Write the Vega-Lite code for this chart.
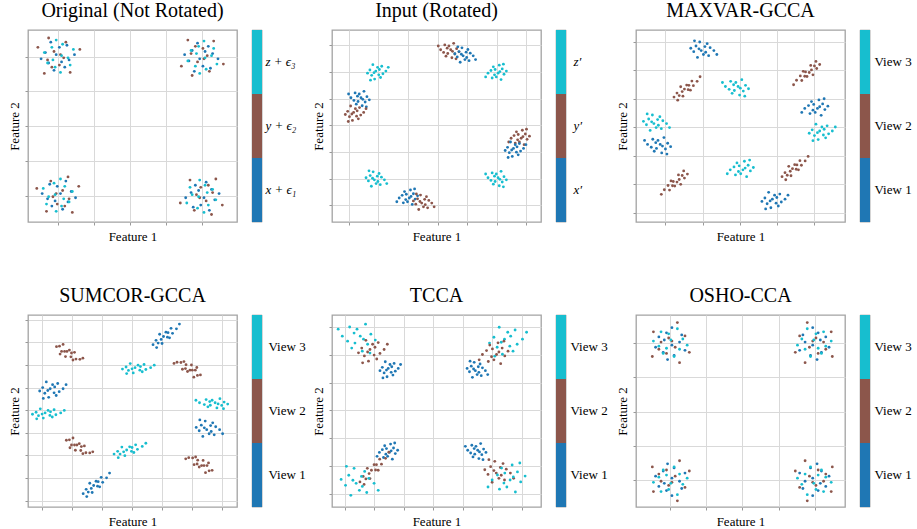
{
"$schema": "https://vega.github.io/schema/vega-lite/v6.json",
"padding": {"left": 7, "top": 0, "right": 0, "bottom": 0},
"background": "white",
"config": {
  "view": {"stroke": "#a3a3a3", "strokeWidth": 1.3},
  "title": {"font": "Liberation Serif", "fontSize": 20, "fontWeight": "normal", "color": "#000", "frame": "group", "anchor": "middle", "baseline": "alphabetic", "offset": 9},
  "axis": {"titleFont": "Liberation Serif", "titleFontSize": 13, "titleFontWeight": "normal", "titleColor": "#000", "labelFont": "Liberation Serif", "labelFontSize": 13, "labelColor": "#000", "domain": false, "tickColor": "#999", "tickSize": 3, "gridColor": "#d9d9d9", "gridWidth": 1},
  "axisX": {"titlePadding": 5},
  "axisY": {"titlePadding": 3}
},
"datasets": {
"bars": [
{"p":1,"v":1,"lab":"x + ϵ₁"},{"p":1,"v":2,"lab":"y + ϵ₂"},{"p":1,"v":3,"lab":"z + ϵ₃"},
{"p":2,"v":1,"lab":"x′"},{"p":2,"v":2,"lab":"y′"},{"p":2,"v":3,"lab":"z′"},
{"p":3,"v":1,"lab":"View 1"},{"p":3,"v":2,"lab":"View 2"},{"p":3,"v":3,"lab":"View 3"},
{"p":4,"v":1,"lab":"View 1"},{"p":4,"v":2,"lab":"View 2"},{"p":4,"v":3,"lab":"View 3"},
{"p":5,"v":1,"lab":"View 1"},{"p":5,"v":2,"lab":"View 2"},{"p":5,"v":3,"lab":"View 3"},
{"p":6,"v":1,"lab":"View 1"},{"p":6,"v":2,"lab":"View 2"},{"p":6,"v":3,"lab":"View 3"}
],
"pts": [
{"p":1,"v":1,"x":0.09,"y":3.85},{"p":1,"v":1,"x":-0.36,"y":4.12},{"p":1,"v":1,"x":0.24,"y":4.33},{"p":1,"v":1,"x":-0.12,"y":3.61},{"p":1,"v":1,"x":0.45,"y":4.06},{"p":1,"v":1,"x":-0.27,"y":3.82},{"p":1,"v":1,"x":0.03,"y":4.27},{"p":1,"v":1,"x":-0.48,"y":3.94},{"p":1,"v":1,"x":0.18,"y":3.70},{"p":1,"v":1,"x":-0.06,"y":4.06},{"p":1,"v":1,"x":0.30,"y":3.91},{"p":1,"v":1,"x":-0.21,"y":4.42},
{"p":1,"v":2,"x":-0.18,"y":3.70},{"p":1,"v":2,"x":0.06,"y":4.06},{"p":1,"v":2,"x":-0.30,"y":3.91},{"p":1,"v":2,"x":0.21,"y":4.42},{"p":1,"v":2,"x":-0.12,"y":4.15},{"p":1,"v":2,"x":0.33,"y":3.55},{"p":1,"v":2,"x":-0.57,"y":4.27},{"p":1,"v":2,"x":0.15,"y":3.97},{"p":1,"v":2,"x":-0.27,"y":4.54},{"p":1,"v":2,"x":0.03,"y":3.76},{"p":1,"v":2,"x":-0.39,"y":3.52},{"p":1,"v":2,"x":0.60,"y":4.21},
{"p":1,"v":3,"x":-0.15,"y":3.91},{"p":1,"v":3,"x":0.12,"y":4.36},{"p":1,"v":3,"x":0.33,"y":3.76},{"p":1,"v":3,"x":-0.39,"y":4.12},{"p":1,"v":3,"x":0.06,"y":3.55},{"p":1,"v":3,"x":-0.18,"y":4.27},{"p":1,"v":3,"x":0.27,"y":3.97},{"p":1,"v":3,"x":-0.06,"y":4.48},{"p":1,"v":3,"x":-0.30,"y":3.82},{"p":1,"v":3,"x":0.09,"y":4.03},{"p":1,"v":3,"x":-0.09,"y":3.70},{"p":1,"v":3,"x":0.42,"y":4.21},
{"p":1,"v":1,"x":4.09,"y":4.15},{"p":1,"v":1,"x":3.64,"y":3.88},{"p":1,"v":1,"x":4.24,"y":3.67},{"p":1,"v":1,"x":3.88,"y":4.39},{"p":1,"v":1,"x":4.45,"y":3.94},{"p":1,"v":1,"x":3.73,"y":4.18},{"p":1,"v":1,"x":4.03,"y":3.73},{"p":1,"v":1,"x":3.52,"y":4.06},{"p":1,"v":1,"x":4.18,"y":4.30},{"p":1,"v":1,"x":3.94,"y":3.94},{"p":1,"v":1,"x":4.30,"y":4.09},{"p":1,"v":1,"x":3.79,"y":3.58},
{"p":1,"v":2,"x":3.82,"y":4.30},{"p":1,"v":2,"x":4.06,"y":3.94},{"p":1,"v":2,"x":3.70,"y":4.09},{"p":1,"v":2,"x":4.21,"y":3.58},{"p":1,"v":2,"x":3.88,"y":3.85},{"p":1,"v":2,"x":4.33,"y":4.45},{"p":1,"v":2,"x":3.43,"y":3.73},{"p":1,"v":2,"x":4.15,"y":4.03},{"p":1,"v":2,"x":3.73,"y":3.46},{"p":1,"v":2,"x":4.03,"y":4.24},{"p":1,"v":2,"x":3.61,"y":4.48},{"p":1,"v":2,"x":4.60,"y":3.79},
{"p":1,"v":3,"x":3.85,"y":4.09},{"p":1,"v":3,"x":4.12,"y":3.64},{"p":1,"v":3,"x":4.33,"y":4.24},{"p":1,"v":3,"x":3.61,"y":3.88},{"p":1,"v":3,"x":4.06,"y":4.45},{"p":1,"v":3,"x":3.82,"y":3.73},{"p":1,"v":3,"x":4.27,"y":4.03},{"p":1,"v":3,"x":3.94,"y":3.52},{"p":1,"v":3,"x":3.70,"y":4.18},{"p":1,"v":3,"x":4.09,"y":3.97},{"p":1,"v":3,"x":3.91,"y":4.30},{"p":1,"v":3,"x":4.42,"y":3.79},
{"p":1,"v":1,"x":-0.09,"y":-0.15},{"p":1,"v":1,"x":0.36,"y":0.12},{"p":1,"v":1,"x":-0.24,"y":0.33},{"p":1,"v":1,"x":0.12,"y":-0.39},{"p":1,"v":1,"x":-0.45,"y":0.06},{"p":1,"v":1,"x":0.27,"y":-0.18},{"p":1,"v":1,"x":-0.03,"y":0.27},{"p":1,"v":1,"x":0.48,"y":-0.06},{"p":1,"v":1,"x":-0.18,"y":-0.30},{"p":1,"v":1,"x":0.06,"y":0.06},{"p":1,"v":1,"x":-0.30,"y":-0.09},{"p":1,"v":1,"x":0.21,"y":0.42},
{"p":1,"v":2,"x":0.18,"y":-0.30},{"p":1,"v":2,"x":-0.06,"y":0.06},{"p":1,"v":2,"x":0.30,"y":-0.09},{"p":1,"v":2,"x":-0.21,"y":0.42},{"p":1,"v":2,"x":0.12,"y":0.15},{"p":1,"v":2,"x":-0.33,"y":-0.45},{"p":1,"v":2,"x":0.57,"y":0.27},{"p":1,"v":2,"x":-0.15,"y":-0.03},{"p":1,"v":2,"x":0.27,"y":0.54},{"p":1,"v":2,"x":-0.03,"y":-0.24},{"p":1,"v":2,"x":0.39,"y":-0.48},{"p":1,"v":2,"x":-0.60,"y":0.21},
{"p":1,"v":3,"x":0.15,"y":-0.09},{"p":1,"v":3,"x":-0.12,"y":0.36},{"p":1,"v":3,"x":-0.33,"y":-0.24},{"p":1,"v":3,"x":0.39,"y":0.12},{"p":1,"v":3,"x":-0.06,"y":-0.45},{"p":1,"v":3,"x":0.18,"y":0.27},{"p":1,"v":3,"x":-0.27,"y":-0.03},{"p":1,"v":3,"x":0.06,"y":0.48},{"p":1,"v":3,"x":0.30,"y":-0.18},{"p":1,"v":3,"x":-0.09,"y":0.03},{"p":1,"v":3,"x":0.09,"y":-0.30},{"p":1,"v":3,"x":-0.42,"y":0.21},
{"p":1,"v":1,"x":3.91,"y":0.15},{"p":1,"v":1,"x":4.36,"y":-0.12},{"p":1,"v":1,"x":3.76,"y":-0.33},{"p":1,"v":1,"x":4.12,"y":0.39},{"p":1,"v":1,"x":3.55,"y":-0.06},{"p":1,"v":1,"x":4.27,"y":0.18},{"p":1,"v":1,"x":3.97,"y":-0.27},{"p":1,"v":1,"x":4.48,"y":0.06},{"p":1,"v":1,"x":3.82,"y":0.30},{"p":1,"v":1,"x":4.06,"y":-0.06},{"p":1,"v":1,"x":3.70,"y":0.09},{"p":1,"v":1,"x":4.21,"y":-0.42},
{"p":1,"v":2,"x":4.18,"y":0.30},{"p":1,"v":2,"x":3.94,"y":-0.06},{"p":1,"v":2,"x":4.30,"y":0.09},{"p":1,"v":2,"x":3.79,"y":-0.42},{"p":1,"v":2,"x":4.12,"y":-0.15},{"p":1,"v":2,"x":3.67,"y":0.45},{"p":1,"v":2,"x":4.57,"y":-0.27},{"p":1,"v":2,"x":3.85,"y":0.03},{"p":1,"v":2,"x":4.27,"y":-0.54},{"p":1,"v":2,"x":3.97,"y":0.24},{"p":1,"v":2,"x":4.39,"y":0.48},{"p":1,"v":2,"x":3.40,"y":-0.21},
{"p":1,"v":3,"x":4.15,"y":0.09},{"p":1,"v":3,"x":3.88,"y":-0.36},{"p":1,"v":3,"x":3.67,"y":0.24},{"p":1,"v":3,"x":4.39,"y":-0.12},{"p":1,"v":3,"x":3.94,"y":0.45},{"p":1,"v":3,"x":4.18,"y":-0.27},{"p":1,"v":3,"x":3.73,"y":0.03},{"p":1,"v":3,"x":4.06,"y":-0.48},{"p":1,"v":3,"x":4.30,"y":0.18},{"p":1,"v":3,"x":3.91,"y":-0.03},{"p":1,"v":3,"x":4.09,"y":0.30},{"p":1,"v":3,"x":3.58,"y":-0.21},

{"p":2,"v":3,"x":1.01,"y":4.90},{"p":2,"v":3,"x":0.71,"y":5.08},{"p":2,"v":3,"x":1.11,"y":5.22},{"p":2,"v":3,"x":0.87,"y":4.74},{"p":2,"v":3,"x":1.25,"y":5.04},{"p":2,"v":3,"x":0.77,"y":4.88},{"p":2,"v":3,"x":0.97,"y":5.18},{"p":2,"v":3,"x":0.63,"y":4.96},{"p":2,"v":3,"x":1.07,"y":4.80},{"p":2,"v":3,"x":0.91,"y":5.04},{"p":2,"v":3,"x":1.15,"y":4.94},{"p":2,"v":3,"x":0.81,"y":5.28},{"p":2,"v":3,"x":1.03,"y":5.10},{"p":2,"v":3,"x":0.73,"y":4.70},{"p":2,"v":3,"x":1.33,"y":5.18},{"p":2,"v":3,"x":0.85,"y":4.98},
{"p":2,"v":2,"x":3.34,"y":5.70},{"p":2,"v":2,"x":3.64,"y":5.88},{"p":2,"v":2,"x":3.24,"y":6.02},{"p":2,"v":2,"x":3.48,"y":5.54},{"p":2,"v":2,"x":3.10,"y":5.84},{"p":2,"v":2,"x":3.58,"y":5.68},{"p":2,"v":2,"x":3.38,"y":5.98},{"p":2,"v":2,"x":3.72,"y":5.76},{"p":2,"v":2,"x":3.28,"y":5.60},{"p":2,"v":2,"x":3.44,"y":5.84},{"p":2,"v":2,"x":3.20,"y":5.74},{"p":2,"v":2,"x":3.54,"y":6.08},{"p":2,"v":2,"x":3.32,"y":5.90},{"p":2,"v":2,"x":3.62,"y":5.50},{"p":2,"v":2,"x":3.02,"y":5.98},{"p":2,"v":2,"x":3.50,"y":5.78},
{"p":2,"v":1,"x":3.96,"y":5.75},{"p":2,"v":1,"x":3.66,"y":5.57},{"p":2,"v":1,"x":4.06,"y":5.43},{"p":2,"v":1,"x":3.82,"y":5.91},{"p":2,"v":1,"x":4.20,"y":5.61},{"p":2,"v":1,"x":3.72,"y":5.77},{"p":2,"v":1,"x":3.92,"y":5.47},{"p":2,"v":1,"x":3.58,"y":5.69},{"p":2,"v":1,"x":4.02,"y":5.85},{"p":2,"v":1,"x":3.86,"y":5.61},{"p":2,"v":1,"x":4.10,"y":5.71},{"p":2,"v":1,"x":3.76,"y":5.37},{"p":2,"v":1,"x":3.98,"y":5.55},{"p":2,"v":1,"x":3.68,"y":5.95},{"p":2,"v":1,"x":4.28,"y":5.47},{"p":2,"v":1,"x":3.80,"y":5.67},
{"p":2,"v":3,"x":4.94,"y":5.10},{"p":2,"v":3,"x":5.24,"y":4.92},{"p":2,"v":3,"x":4.84,"y":4.78},{"p":2,"v":3,"x":5.08,"y":5.26},{"p":2,"v":3,"x":4.70,"y":4.96},{"p":2,"v":3,"x":5.18,"y":5.12},{"p":2,"v":3,"x":4.98,"y":4.82},{"p":2,"v":3,"x":5.32,"y":5.04},{"p":2,"v":3,"x":4.88,"y":5.20},{"p":2,"v":3,"x":5.04,"y":4.96},{"p":2,"v":3,"x":4.80,"y":5.06},{"p":2,"v":3,"x":5.14,"y":4.72},{"p":2,"v":3,"x":4.92,"y":4.90},{"p":2,"v":3,"x":5.22,"y":5.30},{"p":2,"v":3,"x":4.62,"y":4.82},{"p":2,"v":3,"x":5.10,"y":5.02},
{"p":2,"v":1,"x":0.31,"y":3.90},{"p":2,"v":1,"x":0.61,"y":4.08},{"p":2,"v":1,"x":0.21,"y":4.22},{"p":2,"v":1,"x":0.45,"y":3.74},{"p":2,"v":1,"x":0.07,"y":4.04},{"p":2,"v":1,"x":0.55,"y":3.88},{"p":2,"v":1,"x":0.35,"y":4.18},{"p":2,"v":1,"x":0.69,"y":3.96},{"p":2,"v":1,"x":0.25,"y":3.80},{"p":2,"v":1,"x":0.41,"y":4.04},{"p":2,"v":1,"x":0.17,"y":3.94},{"p":2,"v":1,"x":0.51,"y":4.28},{"p":2,"v":1,"x":0.29,"y":4.10},{"p":2,"v":1,"x":0.59,"y":3.70},{"p":2,"v":1,"x":-0.01,"y":4.18},{"p":2,"v":1,"x":0.47,"y":3.98},
{"p":2,"v":2,"x":0.26,"y":3.35},{"p":2,"v":2,"x":-0.04,"y":3.53},{"p":2,"v":2,"x":0.36,"y":3.67},{"p":2,"v":2,"x":0.12,"y":3.19},{"p":2,"v":2,"x":0.50,"y":3.49},{"p":2,"v":2,"x":0.02,"y":3.33},{"p":2,"v":2,"x":0.22,"y":3.63},{"p":2,"v":2,"x":-0.12,"y":3.41},{"p":2,"v":2,"x":0.32,"y":3.25},{"p":2,"v":2,"x":0.16,"y":3.49},{"p":2,"v":2,"x":0.40,"y":3.39},{"p":2,"v":2,"x":0.06,"y":3.73},{"p":2,"v":2,"x":0.28,"y":3.55},{"p":2,"v":2,"x":-0.02,"y":3.15},{"p":2,"v":2,"x":0.58,"y":3.63},{"p":2,"v":2,"x":0.10,"y":3.43},
{"p":2,"v":2,"x":5.72,"y":2.66},{"p":2,"v":2,"x":6.02,"y":2.48},{"p":2,"v":2,"x":5.62,"y":2.34},{"p":2,"v":2,"x":5.86,"y":2.82},{"p":2,"v":2,"x":5.48,"y":2.52},{"p":2,"v":2,"x":5.96,"y":2.68},{"p":2,"v":2,"x":5.76,"y":2.38},{"p":2,"v":2,"x":6.10,"y":2.60},{"p":2,"v":2,"x":5.66,"y":2.76},{"p":2,"v":2,"x":5.82,"y":2.52},{"p":2,"v":2,"x":5.58,"y":2.62},{"p":2,"v":2,"x":5.92,"y":2.28},{"p":2,"v":2,"x":5.70,"y":2.46},{"p":2,"v":2,"x":6.00,"y":2.86},{"p":2,"v":2,"x":5.40,"y":2.38},{"p":2,"v":2,"x":5.88,"y":2.58},
{"p":2,"v":1,"x":5.66,"y":2.00},{"p":2,"v":1,"x":5.36,"y":2.18},{"p":2,"v":1,"x":5.76,"y":2.32},{"p":2,"v":1,"x":5.52,"y":1.84},{"p":2,"v":1,"x":5.90,"y":2.14},{"p":2,"v":1,"x":5.42,"y":1.98},{"p":2,"v":1,"x":5.62,"y":2.28},{"p":2,"v":1,"x":5.28,"y":2.06},{"p":2,"v":1,"x":5.72,"y":1.90},{"p":2,"v":1,"x":5.56,"y":2.14},{"p":2,"v":1,"x":5.80,"y":2.04},{"p":2,"v":1,"x":5.46,"y":2.38},{"p":2,"v":1,"x":5.68,"y":2.20},{"p":2,"v":1,"x":5.38,"y":1.80},{"p":2,"v":1,"x":5.98,"y":2.28},{"p":2,"v":1,"x":5.50,"y":2.08},
{"p":2,"v":3,"x":0.96,"y":1.10},{"p":2,"v":3,"x":0.66,"y":0.92},{"p":2,"v":3,"x":1.06,"y":0.78},{"p":2,"v":3,"x":0.82,"y":1.26},{"p":2,"v":3,"x":1.20,"y":0.96},{"p":2,"v":3,"x":0.72,"y":1.12},{"p":2,"v":3,"x":0.92,"y":0.82},{"p":2,"v":3,"x":0.58,"y":1.04},{"p":2,"v":3,"x":1.02,"y":1.20},{"p":2,"v":3,"x":0.86,"y":0.96},{"p":2,"v":3,"x":1.10,"y":1.06},{"p":2,"v":3,"x":0.76,"y":0.72},{"p":2,"v":3,"x":0.98,"y":0.90},{"p":2,"v":3,"x":0.68,"y":1.30},{"p":2,"v":3,"x":1.28,"y":0.82},{"p":2,"v":3,"x":0.80,"y":1.02},
{"p":2,"v":3,"x":4.94,"y":0.90},{"p":2,"v":3,"x":5.24,"y":1.08},{"p":2,"v":3,"x":4.84,"y":1.22},{"p":2,"v":3,"x":5.08,"y":0.74},{"p":2,"v":3,"x":4.70,"y":1.04},{"p":2,"v":3,"x":5.18,"y":0.88},{"p":2,"v":3,"x":4.98,"y":1.18},{"p":2,"v":3,"x":5.32,"y":0.96},{"p":2,"v":3,"x":4.88,"y":0.80},{"p":2,"v":3,"x":5.04,"y":1.04},{"p":2,"v":3,"x":4.80,"y":0.94},{"p":2,"v":3,"x":5.14,"y":1.28},{"p":2,"v":3,"x":4.92,"y":1.10},{"p":2,"v":3,"x":5.22,"y":0.70},{"p":2,"v":3,"x":4.62,"y":1.18},{"p":2,"v":3,"x":5.10,"y":0.98},
{"p":2,"v":1,"x":1.94,"y":0.42},{"p":2,"v":1,"x":2.24,"y":0.24},{"p":2,"v":1,"x":1.84,"y":0.10},{"p":2,"v":1,"x":2.08,"y":0.58},{"p":2,"v":1,"x":1.70,"y":0.28},{"p":2,"v":1,"x":2.18,"y":0.44},{"p":2,"v":1,"x":1.98,"y":0.14},{"p":2,"v":1,"x":2.32,"y":0.36},{"p":2,"v":1,"x":1.88,"y":0.52},{"p":2,"v":1,"x":2.04,"y":0.28},{"p":2,"v":1,"x":1.80,"y":0.38},{"p":2,"v":1,"x":2.14,"y":0.04},{"p":2,"v":1,"x":1.92,"y":0.22},{"p":2,"v":1,"x":2.22,"y":0.62},{"p":2,"v":1,"x":1.62,"y":0.14},{"p":2,"v":1,"x":2.10,"y":0.34},
{"p":2,"v":2,"x":2.56,"y":0.23},{"p":2,"v":2,"x":2.26,"y":0.05},{"p":2,"v":2,"x":2.66,"y":-0.09},{"p":2,"v":2,"x":2.42,"y":0.39},{"p":2,"v":2,"x":2.80,"y":0.09},{"p":2,"v":2,"x":2.32,"y":0.25},{"p":2,"v":2,"x":2.52,"y":-0.05},{"p":2,"v":2,"x":2.18,"y":0.17},{"p":2,"v":2,"x":2.62,"y":0.33},{"p":2,"v":2,"x":2.46,"y":0.09},{"p":2,"v":2,"x":2.70,"y":0.19},{"p":2,"v":2,"x":2.36,"y":-0.15},{"p":2,"v":2,"x":2.58,"y":0.03},{"p":2,"v":2,"x":2.28,"y":0.43},{"p":2,"v":2,"x":2.88,"y":-0.05},{"p":2,"v":2,"x":2.40,"y":0.15},

{"p":3,"v":1,"x":1.06,"y":5.83},{"p":3,"v":1,"x":0.76,"y":5.65},{"p":3,"v":1,"x":1.16,"y":5.51},{"p":3,"v":1,"x":0.92,"y":5.99},{"p":3,"v":1,"x":1.30,"y":5.69},{"p":3,"v":1,"x":0.82,"y":5.85},{"p":3,"v":1,"x":1.02,"y":5.55},{"p":3,"v":1,"x":0.68,"y":5.77},{"p":3,"v":1,"x":1.12,"y":5.93},{"p":3,"v":1,"x":0.96,"y":5.69},{"p":3,"v":1,"x":1.20,"y":5.79},{"p":3,"v":1,"x":0.86,"y":5.45},{"p":3,"v":1,"x":1.08,"y":5.63},{"p":3,"v":1,"x":0.78,"y":6.03},{"p":3,"v":1,"x":1.38,"y":5.55},{"p":3,"v":1,"x":0.90,"y":5.75},
{"p":3,"v":2,"x":0.61,"y":4.32},{"p":3,"v":2,"x":0.31,"y":4.20},{"p":3,"v":2,"x":0.71,"y":4.62},{"p":3,"v":2,"x":0.47,"y":4.09},{"p":3,"v":2,"x":0.85,"y":4.61},{"p":3,"v":2,"x":0.37,"y":4.11},{"p":3,"v":2,"x":0.57,"y":4.48},{"p":3,"v":2,"x":0.23,"y":4.06},{"p":3,"v":2,"x":0.67,"y":4.30},{"p":3,"v":2,"x":0.51,"y":4.34},{"p":3,"v":2,"x":0.75,"y":4.46},{"p":3,"v":2,"x":0.41,"y":4.42},{"p":3,"v":2,"x":0.63,"y":4.47},{"p":3,"v":2,"x":0.33,"y":3.95},{"p":3,"v":2,"x":0.93,"y":4.77},{"p":3,"v":2,"x":0.45,"y":4.25},
{"p":3,"v":3,"x":1.85,"y":4.29},{"p":3,"v":3,"x":2.15,"y":4.47},{"p":3,"v":3,"x":1.75,"y":4.61},{"p":3,"v":3,"x":1.99,"y":4.13},{"p":3,"v":3,"x":1.61,"y":4.43},{"p":3,"v":3,"x":2.09,"y":4.27},{"p":3,"v":3,"x":1.89,"y":4.57},{"p":3,"v":3,"x":2.23,"y":4.35},{"p":3,"v":3,"x":1.79,"y":4.19},{"p":3,"v":3,"x":1.95,"y":4.43},{"p":3,"v":3,"x":1.71,"y":4.33},{"p":3,"v":3,"x":2.05,"y":4.67},{"p":3,"v":3,"x":1.83,"y":4.49},{"p":3,"v":3,"x":2.13,"y":4.09},{"p":3,"v":3,"x":1.53,"y":4.57},{"p":3,"v":3,"x":2.01,"y":4.37},
{"p":3,"v":2,"x":3.76,"y":4.94},{"p":3,"v":2,"x":4.06,"y":5.06},{"p":3,"v":2,"x":3.66,"y":4.64},{"p":3,"v":2,"x":3.90,"y":5.17},{"p":3,"v":2,"x":3.52,"y":4.65},{"p":3,"v":2,"x":4.00,"y":5.15},{"p":3,"v":2,"x":3.80,"y":4.78},{"p":3,"v":2,"x":4.14,"y":5.20},{"p":3,"v":2,"x":3.70,"y":4.96},{"p":3,"v":2,"x":3.86,"y":4.92},{"p":3,"v":2,"x":3.62,"y":4.80},{"p":3,"v":2,"x":3.96,"y":4.84},{"p":3,"v":2,"x":3.74,"y":4.79},{"p":3,"v":2,"x":4.04,"y":5.31},{"p":3,"v":2,"x":3.44,"y":4.49},{"p":3,"v":2,"x":3.92,"y":5.01},
{"p":3,"v":1,"x":3.98,"y":3.80},{"p":3,"v":1,"x":4.28,"y":3.62},{"p":3,"v":1,"x":3.88,"y":3.48},{"p":3,"v":1,"x":4.12,"y":3.96},{"p":3,"v":1,"x":3.74,"y":3.66},{"p":3,"v":1,"x":4.22,"y":3.82},{"p":3,"v":1,"x":4.02,"y":3.52},{"p":3,"v":1,"x":4.36,"y":3.74},{"p":3,"v":1,"x":3.92,"y":3.90},{"p":3,"v":1,"x":4.08,"y":3.66},{"p":3,"v":1,"x":3.84,"y":3.76},{"p":3,"v":1,"x":4.18,"y":3.42},{"p":3,"v":1,"x":3.96,"y":3.60},{"p":3,"v":1,"x":4.26,"y":4.00},{"p":3,"v":1,"x":3.66,"y":3.52},{"p":3,"v":1,"x":4.14,"y":3.72},
{"p":3,"v":3,"x":4.24,"y":2.73},{"p":3,"v":3,"x":3.94,"y":2.91},{"p":3,"v":3,"x":4.34,"y":3.05},{"p":3,"v":3,"x":4.10,"y":2.57},{"p":3,"v":3,"x":4.48,"y":2.87},{"p":3,"v":3,"x":4.00,"y":2.71},{"p":3,"v":3,"x":4.20,"y":3.01},{"p":3,"v":3,"x":3.86,"y":2.79},{"p":3,"v":3,"x":4.30,"y":2.63},{"p":3,"v":3,"x":4.14,"y":2.87},{"p":3,"v":3,"x":4.38,"y":2.77},{"p":3,"v":3,"x":4.04,"y":3.11},{"p":3,"v":3,"x":4.26,"y":2.93},{"p":3,"v":3,"x":3.96,"y":2.53},{"p":3,"v":3,"x":4.56,"y":3.01},{"p":3,"v":3,"x":4.08,"y":2.81},
{"p":3,"v":3,"x":-0.21,"y":3.27},{"p":3,"v":3,"x":-0.51,"y":3.09},{"p":3,"v":3,"x":-0.11,"y":2.95},{"p":3,"v":3,"x":-0.35,"y":3.43},{"p":3,"v":3,"x":0.03,"y":3.13},{"p":3,"v":3,"x":-0.45,"y":3.29},{"p":3,"v":3,"x":-0.25,"y":2.99},{"p":3,"v":3,"x":-0.59,"y":3.21},{"p":3,"v":3,"x":-0.15,"y":3.37},{"p":3,"v":3,"x":-0.31,"y":3.13},{"p":3,"v":3,"x":-0.07,"y":3.23},{"p":3,"v":3,"x":-0.41,"y":2.89},{"p":3,"v":3,"x":-0.19,"y":3.07},{"p":3,"v":3,"x":-0.49,"y":3.47},{"p":3,"v":3,"x":0.11,"y":2.99},{"p":3,"v":3,"x":-0.37,"y":3.19},
{"p":3,"v":1,"x":-0.24,"y":2.26},{"p":3,"v":1,"x":0.06,"y":2.44},{"p":3,"v":1,"x":-0.34,"y":2.58},{"p":3,"v":1,"x":-0.10,"y":2.10},{"p":3,"v":1,"x":-0.48,"y":2.40},{"p":3,"v":1,"x":0.00,"y":2.24},{"p":3,"v":1,"x":-0.20,"y":2.54},{"p":3,"v":1,"x":0.14,"y":2.32},{"p":3,"v":1,"x":-0.30,"y":2.16},{"p":3,"v":1,"x":-0.14,"y":2.40},{"p":3,"v":1,"x":-0.38,"y":2.30},{"p":3,"v":1,"x":-0.04,"y":2.64},{"p":3,"v":1,"x":-0.26,"y":2.46},{"p":3,"v":1,"x":0.04,"y":2.06},{"p":3,"v":1,"x":-0.56,"y":2.54},{"p":3,"v":1,"x":-0.08,"y":2.34},
{"p":3,"v":3,"x":1.98,"y":1.65},{"p":3,"v":3,"x":2.28,"y":1.47},{"p":3,"v":3,"x":1.88,"y":1.33},{"p":3,"v":3,"x":2.12,"y":1.81},{"p":3,"v":3,"x":1.74,"y":1.51},{"p":3,"v":3,"x":2.22,"y":1.67},{"p":3,"v":3,"x":2.02,"y":1.37},{"p":3,"v":3,"x":2.36,"y":1.59},{"p":3,"v":3,"x":1.92,"y":1.75},{"p":3,"v":3,"x":2.08,"y":1.51},{"p":3,"v":3,"x":1.84,"y":1.61},{"p":3,"v":3,"x":2.18,"y":1.27},{"p":3,"v":3,"x":1.96,"y":1.45},{"p":3,"v":3,"x":2.26,"y":1.85},{"p":3,"v":3,"x":1.66,"y":1.37},{"p":3,"v":3,"x":2.14,"y":1.57},
{"p":3,"v":2,"x":3.51,"y":1.53},{"p":3,"v":2,"x":3.21,"y":1.41},{"p":3,"v":2,"x":3.61,"y":1.83},{"p":3,"v":2,"x":3.37,"y":1.30},{"p":3,"v":2,"x":3.75,"y":1.82},{"p":3,"v":2,"x":3.27,"y":1.32},{"p":3,"v":2,"x":3.47,"y":1.69},{"p":3,"v":2,"x":3.13,"y":1.27},{"p":3,"v":2,"x":3.57,"y":1.51},{"p":3,"v":2,"x":3.41,"y":1.55},{"p":3,"v":2,"x":3.65,"y":1.67},{"p":3,"v":2,"x":3.31,"y":1.63},{"p":3,"v":2,"x":3.53,"y":1.68},{"p":3,"v":2,"x":3.23,"y":1.16},{"p":3,"v":2,"x":3.83,"y":1.98},{"p":3,"v":2,"x":3.35,"y":1.46},
{"p":3,"v":2,"x":0.21,"y":1.10},{"p":3,"v":2,"x":0.51,"y":1.22},{"p":3,"v":2,"x":0.11,"y":0.80},{"p":3,"v":2,"x":0.35,"y":1.33},{"p":3,"v":2,"x":-0.03,"y":0.81},{"p":3,"v":2,"x":0.45,"y":1.31},{"p":3,"v":2,"x":0.25,"y":0.94},{"p":3,"v":2,"x":0.59,"y":1.36},{"p":3,"v":2,"x":0.15,"y":1.12},{"p":3,"v":2,"x":0.31,"y":1.08},{"p":3,"v":2,"x":0.07,"y":0.96},{"p":3,"v":2,"x":0.41,"y":1.00},{"p":3,"v":2,"x":0.19,"y":0.95},{"p":3,"v":2,"x":0.49,"y":1.47},{"p":3,"v":2,"x":-0.11,"y":0.65},{"p":3,"v":2,"x":0.37,"y":1.17},
{"p":3,"v":1,"x":2.97,"y":0.34},{"p":3,"v":1,"x":2.67,"y":0.52},{"p":3,"v":1,"x":3.07,"y":0.66},{"p":3,"v":1,"x":2.83,"y":0.18},{"p":3,"v":1,"x":3.21,"y":0.48},{"p":3,"v":1,"x":2.73,"y":0.32},{"p":3,"v":1,"x":2.93,"y":0.62},{"p":3,"v":1,"x":2.59,"y":0.40},{"p":3,"v":1,"x":3.03,"y":0.24},{"p":3,"v":1,"x":2.87,"y":0.48},{"p":3,"v":1,"x":3.11,"y":0.38},{"p":3,"v":1,"x":2.77,"y":0.72},{"p":3,"v":1,"x":2.99,"y":0.54},{"p":3,"v":1,"x":2.69,"y":0.14},{"p":3,"v":1,"x":3.29,"y":0.62},{"p":3,"v":1,"x":2.81,"y":0.42},

{"p":4,"v":1,"x":4.19,"y":7.23},{"p":4,"v":1,"x":3.81,"y":7.09},{"p":4,"v":1,"x":4.31,"y":7.62},{"p":4,"v":1,"x":4.01,"y":6.95},{"p":4,"v":1,"x":4.49,"y":7.60},{"p":4,"v":1,"x":3.88,"y":6.97},{"p":4,"v":1,"x":4.14,"y":7.45},{"p":4,"v":1,"x":3.71,"y":6.90},{"p":4,"v":1,"x":4.26,"y":7.20},{"p":4,"v":1,"x":4.06,"y":7.26},{"p":4,"v":1,"x":4.36,"y":7.40},{"p":4,"v":1,"x":3.93,"y":7.36},{"p":4,"v":1,"x":4.21,"y":7.43},{"p":4,"v":1,"x":3.83,"y":6.77},{"p":4,"v":1,"x":4.59,"y":7.81},{"p":4,"v":1,"x":3.98,"y":7.13},
{"p":4,"v":2,"x":0.97,"y":6.36},{"p":4,"v":2,"x":0.59,"y":6.83},{"p":4,"v":2,"x":1.09,"y":6.56},{"p":4,"v":2,"x":0.79,"y":6.37},{"p":4,"v":2,"x":1.27,"y":6.25},{"p":4,"v":2,"x":0.66,"y":6.60},{"p":4,"v":2,"x":0.92,"y":6.66},{"p":4,"v":2,"x":0.49,"y":6.81},{"p":4,"v":2,"x":1.04,"y":6.22},{"p":4,"v":2,"x":0.84,"y":6.60},{"p":4,"v":2,"x":1.14,"y":6.26},{"p":4,"v":2,"x":0.71,"y":6.91},{"p":4,"v":2,"x":0.99,"y":6.53},{"p":4,"v":2,"x":0.61,"y":6.48},{"p":4,"v":2,"x":1.37,"y":6.30},{"p":4,"v":2,"x":0.76,"y":6.60},
{"p":4,"v":3,"x":3.27,"y":5.77},{"p":4,"v":3,"x":2.81,"y":5.91},{"p":4,"v":3,"x":3.41,"y":6.02},{"p":4,"v":3,"x":3.05,"y":5.65},{"p":4,"v":3,"x":3.63,"y":5.88},{"p":4,"v":3,"x":2.89,"y":5.76},{"p":4,"v":3,"x":3.21,"y":5.99},{"p":4,"v":3,"x":2.69,"y":5.82},{"p":4,"v":3,"x":3.35,"y":5.70},{"p":4,"v":3,"x":3.11,"y":5.88},{"p":4,"v":3,"x":3.47,"y":5.80},{"p":4,"v":3,"x":2.95,"y":6.06},{"p":4,"v":3,"x":3.29,"y":5.93},{"p":4,"v":3,"x":2.83,"y":5.62},{"p":4,"v":3,"x":3.75,"y":5.99},{"p":4,"v":3,"x":3.01,"y":5.83},
{"p":4,"v":2,"x":4.81,"y":6.01},{"p":4,"v":2,"x":5.19,"y":5.54},{"p":4,"v":2,"x":4.69,"y":5.81},{"p":4,"v":2,"x":4.99,"y":6.00},{"p":4,"v":2,"x":4.51,"y":6.12},{"p":4,"v":2,"x":5.12,"y":5.77},{"p":4,"v":2,"x":4.86,"y":5.71},{"p":4,"v":2,"x":5.29,"y":5.56},{"p":4,"v":2,"x":4.74,"y":6.15},{"p":4,"v":2,"x":4.94,"y":5.77},{"p":4,"v":2,"x":4.64,"y":6.11},{"p":4,"v":2,"x":5.07,"y":5.46},{"p":4,"v":2,"x":4.79,"y":5.84},{"p":4,"v":2,"x":5.17,"y":5.89},{"p":4,"v":2,"x":4.41,"y":6.07},{"p":4,"v":2,"x":5.02,"y":5.77},
{"p":4,"v":1,"x":0.41,"y":4.77},{"p":4,"v":1,"x":0.03,"y":5.00},{"p":4,"v":1,"x":0.53,"y":5.18},{"p":4,"v":1,"x":0.23,"y":4.57},{"p":4,"v":1,"x":0.71,"y":4.95},{"p":4,"v":1,"x":0.10,"y":4.75},{"p":4,"v":1,"x":0.36,"y":5.13},{"p":4,"v":1,"x":-0.07,"y":4.85},{"p":4,"v":1,"x":0.48,"y":4.65},{"p":4,"v":1,"x":0.28,"y":4.95},{"p":4,"v":1,"x":0.58,"y":4.82},{"p":4,"v":1,"x":0.15,"y":5.25},{"p":4,"v":1,"x":0.43,"y":5.03},{"p":4,"v":1,"x":0.05,"y":4.52},{"p":4,"v":1,"x":0.81,"y":5.13},{"p":4,"v":1,"x":0.20,"y":4.87},
{"p":4,"v":3,"x":0.27,"y":3.77},{"p":4,"v":3,"x":-0.19,"y":3.91},{"p":4,"v":3,"x":0.41,"y":4.02},{"p":4,"v":3,"x":0.05,"y":3.65},{"p":4,"v":3,"x":0.63,"y":3.88},{"p":4,"v":3,"x":-0.11,"y":3.76},{"p":4,"v":3,"x":0.21,"y":3.99},{"p":4,"v":3,"x":-0.31,"y":3.82},{"p":4,"v":3,"x":0.35,"y":3.70},{"p":4,"v":3,"x":0.11,"y":3.88},{"p":4,"v":3,"x":0.47,"y":3.80},{"p":4,"v":3,"x":-0.05,"y":4.06},{"p":4,"v":3,"x":0.29,"y":3.93},{"p":4,"v":3,"x":-0.17,"y":3.62},{"p":4,"v":3,"x":0.75,"y":3.99},{"p":4,"v":3,"x":0.01,"y":3.83},
{"p":4,"v":3,"x":5.62,"y":4.22},{"p":4,"v":3,"x":6.08,"y":4.36},{"p":4,"v":3,"x":5.48,"y":4.47},{"p":4,"v":3,"x":5.84,"y":4.10},{"p":4,"v":3,"x":5.26,"y":4.33},{"p":4,"v":3,"x":6.00,"y":4.21},{"p":4,"v":3,"x":5.68,"y":4.44},{"p":4,"v":3,"x":6.20,"y":4.27},{"p":4,"v":3,"x":5.54,"y":4.15},{"p":4,"v":3,"x":5.78,"y":4.33},{"p":4,"v":3,"x":5.42,"y":4.25},{"p":4,"v":3,"x":5.94,"y":4.51},{"p":4,"v":3,"x":5.60,"y":4.38},{"p":4,"v":3,"x":6.06,"y":4.07},{"p":4,"v":3,"x":5.14,"y":4.44},{"p":4,"v":3,"x":5.88,"y":4.28},
{"p":4,"v":1,"x":5.63,"y":3.32},{"p":4,"v":1,"x":5.25,"y":3.09},{"p":4,"v":1,"x":5.75,"y":2.91},{"p":4,"v":1,"x":5.45,"y":3.52},{"p":4,"v":1,"x":5.93,"y":3.14},{"p":4,"v":1,"x":5.32,"y":3.34},{"p":4,"v":1,"x":5.58,"y":2.96},{"p":4,"v":1,"x":5.15,"y":3.24},{"p":4,"v":1,"x":5.70,"y":3.44},{"p":4,"v":1,"x":5.50,"y":3.14},{"p":4,"v":1,"x":5.80,"y":3.27},{"p":4,"v":1,"x":5.37,"y":2.84},{"p":4,"v":1,"x":5.65,"y":3.06},{"p":4,"v":1,"x":5.27,"y":3.57},{"p":4,"v":1,"x":6.03,"y":2.96},{"p":4,"v":1,"x":5.42,"y":3.22},
{"p":4,"v":2,"x":1.30,"y":2.22},{"p":4,"v":2,"x":0.92,"y":2.69},{"p":4,"v":2,"x":1.42,"y":2.42},{"p":4,"v":2,"x":1.12,"y":2.23},{"p":4,"v":2,"x":1.60,"y":2.11},{"p":4,"v":2,"x":0.99,"y":2.46},{"p":4,"v":2,"x":1.25,"y":2.52},{"p":4,"v":2,"x":0.82,"y":2.67},{"p":4,"v":2,"x":1.37,"y":2.08},{"p":4,"v":2,"x":1.17,"y":2.46},{"p":4,"v":2,"x":1.47,"y":2.12},{"p":4,"v":2,"x":1.04,"y":2.77},{"p":4,"v":2,"x":1.32,"y":2.39},{"p":4,"v":2,"x":0.94,"y":2.34},{"p":4,"v":2,"x":1.70,"y":2.16},{"p":4,"v":2,"x":1.09,"y":2.46},
{"p":4,"v":3,"x":2.99,"y":2.18},{"p":4,"v":3,"x":2.53,"y":2.18},{"p":4,"v":3,"x":3.13,"y":2.47},{"p":4,"v":3,"x":2.77,"y":1.99},{"p":4,"v":3,"x":3.35,"y":2.40},{"p":4,"v":3,"x":2.61,"y":2.06},{"p":4,"v":3,"x":2.93,"y":2.38},{"p":4,"v":3,"x":2.41,"y":2.06},{"p":4,"v":3,"x":3.07,"y":2.13},{"p":4,"v":3,"x":2.83,"y":2.24},{"p":4,"v":3,"x":3.19,"y":2.27},{"p":4,"v":3,"x":2.67,"y":2.37},{"p":4,"v":3,"x":3.01,"y":2.35},{"p":4,"v":3,"x":2.55,"y":1.90},{"p":4,"v":3,"x":3.47,"y":2.54},{"p":4,"v":3,"x":2.73,"y":2.16},
{"p":4,"v":2,"x":5.20,"y":1.79},{"p":4,"v":2,"x":5.58,"y":1.32},{"p":4,"v":2,"x":5.08,"y":1.59},{"p":4,"v":2,"x":5.38,"y":1.78},{"p":4,"v":2,"x":4.90,"y":1.90},{"p":4,"v":2,"x":5.51,"y":1.55},{"p":4,"v":2,"x":5.25,"y":1.49},{"p":4,"v":2,"x":5.68,"y":1.34},{"p":4,"v":2,"x":5.13,"y":1.93},{"p":4,"v":2,"x":5.33,"y":1.55},{"p":4,"v":2,"x":5.03,"y":1.89},{"p":4,"v":2,"x":5.46,"y":1.24},{"p":4,"v":2,"x":5.18,"y":1.62},{"p":4,"v":2,"x":5.56,"y":1.67},{"p":4,"v":2,"x":4.80,"y":1.85},{"p":4,"v":2,"x":5.41,"y":1.55},
{"p":4,"v":1,"x":1.86,"y":0.64},{"p":4,"v":1,"x":1.48,"y":0.50},{"p":4,"v":1,"x":1.98,"y":1.03},{"p":4,"v":1,"x":1.68,"y":0.36},{"p":4,"v":1,"x":2.16,"y":1.01},{"p":4,"v":1,"x":1.55,"y":0.38},{"p":4,"v":1,"x":1.81,"y":0.86},{"p":4,"v":1,"x":1.38,"y":0.31},{"p":4,"v":1,"x":1.93,"y":0.61},{"p":4,"v":1,"x":1.73,"y":0.67},{"p":4,"v":1,"x":2.03,"y":0.81},{"p":4,"v":1,"x":1.60,"y":0.77},{"p":4,"v":1,"x":1.88,"y":0.84},{"p":4,"v":1,"x":1.50,"y":0.18},{"p":4,"v":1,"x":2.26,"y":1.22},{"p":4,"v":1,"x":1.65,"y":0.54},

{"p":5,"v":3,"x":0.34,"y":5.42},{"p":5,"v":3,"x":0.88,"y":5.74},{"p":5,"v":3,"x":0.16,"y":6.00},{"p":5,"v":3,"x":0.59,"y":5.13},{"p":5,"v":3,"x":-0.09,"y":5.67},{"p":5,"v":3,"x":0.77,"y":5.38},{"p":5,"v":3,"x":0.41,"y":5.92},{"p":5,"v":3,"x":1.03,"y":5.53},{"p":5,"v":3,"x":0.23,"y":5.24},{"p":5,"v":3,"x":0.52,"y":5.67},{"p":5,"v":3,"x":0.09,"y":5.49},{"p":5,"v":3,"x":0.70,"y":6.10},{"p":5,"v":3,"x":0.31,"y":5.78},{"p":5,"v":3,"x":0.85,"y":5.06},{"p":5,"v":3,"x":-0.23,"y":5.92},{"p":5,"v":3,"x":0.63,"y":5.56},
{"p":5,"v":2,"x":0.99,"y":4.99},{"p":5,"v":2,"x":0.57,"y":5.24},{"p":5,"v":2,"x":1.13,"y":5.44},{"p":5,"v":2,"x":0.80,"y":4.77},{"p":5,"v":2,"x":1.33,"y":5.19},{"p":5,"v":2,"x":0.66,"y":4.96},{"p":5,"v":2,"x":0.94,"y":5.38},{"p":5,"v":2,"x":0.46,"y":5.07},{"p":5,"v":2,"x":1.08,"y":4.85},{"p":5,"v":2,"x":0.85,"y":5.19},{"p":5,"v":2,"x":1.19,"y":5.05},{"p":5,"v":2,"x":0.71,"y":5.52},{"p":5,"v":2,"x":1.02,"y":5.27},{"p":5,"v":2,"x":0.60,"y":4.71},{"p":5,"v":2,"x":1.44,"y":5.38},{"p":5,"v":2,"x":0.77,"y":5.10},
{"p":5,"v":1,"x":1.57,"y":4.37},{"p":5,"v":1,"x":1.27,"y":4.55},{"p":5,"v":1,"x":1.67,"y":4.69},{"p":5,"v":1,"x":1.43,"y":4.21},{"p":5,"v":1,"x":1.81,"y":4.51},{"p":5,"v":1,"x":1.33,"y":4.35},{"p":5,"v":1,"x":1.53,"y":4.65},{"p":5,"v":1,"x":1.19,"y":4.43},{"p":5,"v":1,"x":1.63,"y":4.27},{"p":5,"v":1,"x":1.47,"y":4.51},{"p":5,"v":1,"x":1.71,"y":4.41},{"p":5,"v":1,"x":1.37,"y":4.75},{"p":5,"v":1,"x":1.59,"y":4.57},{"p":5,"v":1,"x":1.29,"y":4.17},{"p":5,"v":1,"x":1.89,"y":4.65},{"p":5,"v":1,"x":1.41,"y":4.45},
{"p":5,"v":3,"x":5.60,"y":5.31},{"p":5,"v":3,"x":5.06,"y":5.63},{"p":5,"v":3,"x":5.78,"y":5.89},{"p":5,"v":3,"x":5.35,"y":5.02},{"p":5,"v":3,"x":6.03,"y":5.56},{"p":5,"v":3,"x":5.17,"y":5.27},{"p":5,"v":3,"x":5.53,"y":5.81},{"p":5,"v":3,"x":4.91,"y":5.42},{"p":5,"v":3,"x":5.71,"y":5.13},{"p":5,"v":3,"x":5.42,"y":5.56},{"p":5,"v":3,"x":5.85,"y":5.38},{"p":5,"v":3,"x":5.24,"y":5.99},{"p":5,"v":3,"x":5.63,"y":5.67},{"p":5,"v":3,"x":5.09,"y":4.95},{"p":5,"v":3,"x":6.17,"y":5.81},{"p":5,"v":3,"x":5.31,"y":5.45},
{"p":5,"v":2,"x":5.01,"y":5.21},{"p":5,"v":2,"x":5.43,"y":4.96},{"p":5,"v":2,"x":4.87,"y":4.76},{"p":5,"v":2,"x":5.20,"y":5.43},{"p":5,"v":2,"x":4.67,"y":5.01},{"p":5,"v":2,"x":5.34,"y":5.24},{"p":5,"v":2,"x":5.06,"y":4.82},{"p":5,"v":2,"x":5.54,"y":5.13},{"p":5,"v":2,"x":4.92,"y":5.35},{"p":5,"v":2,"x":5.15,"y":5.01},{"p":5,"v":2,"x":4.81,"y":5.15},{"p":5,"v":2,"x":5.29,"y":4.68},{"p":5,"v":2,"x":4.98,"y":4.93},{"p":5,"v":2,"x":5.40,"y":5.49},{"p":5,"v":2,"x":4.56,"y":4.82},{"p":5,"v":2,"x":5.23,"y":5.10},
{"p":5,"v":1,"x":4.53,"y":4.57},{"p":5,"v":1,"x":4.23,"y":4.39},{"p":5,"v":1,"x":4.63,"y":4.25},{"p":5,"v":1,"x":4.39,"y":4.73},{"p":5,"v":1,"x":4.77,"y":4.43},{"p":5,"v":1,"x":4.29,"y":4.59},{"p":5,"v":1,"x":4.49,"y":4.29},{"p":5,"v":1,"x":4.15,"y":4.51},{"p":5,"v":1,"x":4.59,"y":4.67},{"p":5,"v":1,"x":4.43,"y":4.43},{"p":5,"v":1,"x":4.67,"y":4.53},{"p":5,"v":1,"x":4.33,"y":4.19},{"p":5,"v":1,"x":4.55,"y":4.37},{"p":5,"v":1,"x":4.25,"y":4.77},{"p":5,"v":1,"x":4.85,"y":4.29},{"p":5,"v":1,"x":4.37,"y":4.49},
{"p":5,"v":1,"x":1.41,"y":1.63},{"p":5,"v":1,"x":1.71,"y":1.45},{"p":5,"v":1,"x":1.31,"y":1.31},{"p":5,"v":1,"x":1.55,"y":1.79},{"p":5,"v":1,"x":1.17,"y":1.49},{"p":5,"v":1,"x":1.65,"y":1.65},{"p":5,"v":1,"x":1.45,"y":1.35},{"p":5,"v":1,"x":1.79,"y":1.57},{"p":5,"v":1,"x":1.35,"y":1.73},{"p":5,"v":1,"x":1.51,"y":1.49},{"p":5,"v":1,"x":1.27,"y":1.59},{"p":5,"v":1,"x":1.61,"y":1.25},{"p":5,"v":1,"x":1.39,"y":1.43},{"p":5,"v":1,"x":1.69,"y":1.83},{"p":5,"v":1,"x":1.09,"y":1.35},{"p":5,"v":1,"x":1.57,"y":1.55},
{"p":5,"v":2,"x":1.04,"y":0.86},{"p":5,"v":2,"x":0.62,"y":0.63},{"p":5,"v":2,"x":1.18,"y":1.25},{"p":5,"v":2,"x":0.85,"y":0.55},{"p":5,"v":2,"x":1.38,"y":1.28},{"p":5,"v":2,"x":0.71,"y":0.54},{"p":5,"v":2,"x":0.99,"y":1.05},{"p":5,"v":2,"x":0.51,"y":0.43},{"p":5,"v":2,"x":1.13,"y":0.85},{"p":5,"v":2,"x":0.90,"y":0.85},{"p":5,"v":2,"x":1.24,"y":1.07},{"p":5,"v":2,"x":0.76,"y":0.92},{"p":5,"v":2,"x":1.07,"y":1.05},{"p":5,"v":2,"x":0.65,"y":0.34},{"p":5,"v":2,"x":1.49,"y":1.50},{"p":5,"v":2,"x":0.82,"y":0.73},
{"p":5,"v":3,"x":0.56,"y":0.63},{"p":5,"v":3,"x":0.02,"y":0.31},{"p":5,"v":3,"x":0.74,"y":0.05},{"p":5,"v":3,"x":0.31,"y":0.92},{"p":5,"v":3,"x":0.99,"y":0.38},{"p":5,"v":3,"x":0.13,"y":0.67},{"p":5,"v":3,"x":0.49,"y":0.13},{"p":5,"v":3,"x":-0.13,"y":0.52},{"p":5,"v":3,"x":0.67,"y":0.81},{"p":5,"v":3,"x":0.38,"y":0.38},{"p":5,"v":3,"x":0.81,"y":0.56},{"p":5,"v":3,"x":0.20,"y":-0.05},{"p":5,"v":3,"x":0.59,"y":0.27},{"p":5,"v":3,"x":0.05,"y":0.99},{"p":5,"v":3,"x":1.13,"y":0.13},{"p":5,"v":3,"x":0.27,"y":0.49},
{"p":5,"v":1,"x":4.41,"y":1.43},{"p":5,"v":1,"x":4.71,"y":1.61},{"p":5,"v":1,"x":4.31,"y":1.75},{"p":5,"v":1,"x":4.55,"y":1.27},{"p":5,"v":1,"x":4.17,"y":1.57},{"p":5,"v":1,"x":4.65,"y":1.41},{"p":5,"v":1,"x":4.45,"y":1.71},{"p":5,"v":1,"x":4.79,"y":1.49},{"p":5,"v":1,"x":4.35,"y":1.33},{"p":5,"v":1,"x":4.51,"y":1.57},{"p":5,"v":1,"x":4.27,"y":1.47},{"p":5,"v":1,"x":4.61,"y":1.81},{"p":5,"v":1,"x":4.39,"y":1.63},{"p":5,"v":1,"x":4.69,"y":1.23},{"p":5,"v":1,"x":4.09,"y":1.71},{"p":5,"v":1,"x":4.57,"y":1.51},
{"p":5,"v":2,"x":5.28,"y":0.95},{"p":5,"v":2,"x":4.86,"y":0.70},{"p":5,"v":2,"x":5.42,"y":0.50},{"p":5,"v":2,"x":5.09,"y":1.17},{"p":5,"v":2,"x":5.62,"y":0.75},{"p":5,"v":2,"x":4.95,"y":0.98},{"p":5,"v":2,"x":5.23,"y":0.56},{"p":5,"v":2,"x":4.75,"y":0.87},{"p":5,"v":2,"x":5.37,"y":1.09},{"p":5,"v":2,"x":5.14,"y":0.75},{"p":5,"v":2,"x":5.48,"y":0.89},{"p":5,"v":2,"x":5.00,"y":0.42},{"p":5,"v":2,"x":5.31,"y":0.67},{"p":5,"v":2,"x":4.89,"y":1.23},{"p":5,"v":2,"x":5.73,"y":0.56},{"p":5,"v":2,"x":5.06,"y":0.84},
{"p":5,"v":3,"x":5.43,"y":0.75},{"p":5,"v":3,"x":5.97,"y":0.43},{"p":5,"v":3,"x":5.25,"y":0.17},{"p":5,"v":3,"x":5.68,"y":1.04},{"p":5,"v":3,"x":5.00,"y":0.50},{"p":5,"v":3,"x":5.86,"y":0.79},{"p":5,"v":3,"x":5.50,"y":0.25},{"p":5,"v":3,"x":6.12,"y":0.64},{"p":5,"v":3,"x":5.32,"y":0.93},{"p":5,"v":3,"x":5.61,"y":0.50},{"p":5,"v":3,"x":5.18,"y":0.68},{"p":5,"v":3,"x":5.79,"y":0.07},{"p":5,"v":3,"x":5.40,"y":0.39},{"p":5,"v":3,"x":5.94,"y":1.11},{"p":5,"v":3,"x":4.86,"y":0.25},{"p":5,"v":3,"x":5.72,"y":0.61},

{"p":6,"v":1,"x":-0.15,"y":4.09},{"p":6,"v":1,"x":0.12,"y":3.64},{"p":6,"v":1,"x":0.33,"y":4.24},{"p":6,"v":1,"x":-0.39,"y":3.88},{"p":6,"v":1,"x":0.06,"y":4.45},{"p":6,"v":1,"x":-0.18,"y":3.73},{"p":6,"v":1,"x":0.27,"y":4.03},{"p":6,"v":1,"x":-0.06,"y":3.52},{"p":6,"v":1,"x":-0.30,"y":4.18},{"p":6,"v":1,"x":0.06,"y":3.94},{"p":6,"v":1,"x":-0.09,"y":4.30},{"p":6,"v":1,"x":0.42,"y":3.79},
{"p":6,"v":2,"x":-0.30,"y":3.82},{"p":6,"v":2,"x":0.06,"y":4.06},{"p":6,"v":2,"x":-0.09,"y":3.70},{"p":6,"v":2,"x":0.42,"y":4.21},{"p":6,"v":2,"x":0.15,"y":3.88},{"p":6,"v":2,"x":-0.45,"y":4.33},{"p":6,"v":2,"x":0.27,"y":3.43},{"p":6,"v":2,"x":-0.03,"y":4.15},{"p":6,"v":2,"x":0.54,"y":3.73},{"p":6,"v":2,"x":-0.24,"y":4.03},{"p":6,"v":2,"x":-0.48,"y":3.61},{"p":6,"v":2,"x":0.21,"y":4.60},
{"p":6,"v":3,"x":-0.09,"y":3.85},{"p":6,"v":3,"x":0.36,"y":4.12},{"p":6,"v":3,"x":-0.24,"y":4.33},{"p":6,"v":3,"x":0.12,"y":3.61},{"p":6,"v":3,"x":-0.45,"y":4.06},{"p":6,"v":3,"x":0.27,"y":3.82},{"p":6,"v":3,"x":-0.03,"y":4.27},{"p":6,"v":3,"x":0.48,"y":3.94},{"p":6,"v":3,"x":-0.18,"y":3.70},{"p":6,"v":3,"x":0.03,"y":4.09},{"p":6,"v":3,"x":-0.30,"y":3.91},{"p":6,"v":3,"x":0.21,"y":4.42},
{"p":6,"v":1,"x":4.15,"y":4.09},{"p":6,"v":1,"x":3.88,"y":3.64},{"p":6,"v":1,"x":3.67,"y":4.24},{"p":6,"v":1,"x":4.39,"y":3.88},{"p":6,"v":1,"x":3.94,"y":4.45},{"p":6,"v":1,"x":4.18,"y":3.73},{"p":6,"v":1,"x":3.73,"y":4.03},{"p":6,"v":1,"x":4.06,"y":3.52},{"p":6,"v":1,"x":4.30,"y":4.18},{"p":6,"v":1,"x":3.94,"y":3.94},{"p":6,"v":1,"x":4.09,"y":4.30},{"p":6,"v":1,"x":3.58,"y":3.79},
{"p":6,"v":2,"x":4.30,"y":3.82},{"p":6,"v":2,"x":3.94,"y":4.06},{"p":6,"v":2,"x":4.09,"y":3.70},{"p":6,"v":2,"x":3.58,"y":4.21},{"p":6,"v":2,"x":3.85,"y":3.88},{"p":6,"v":2,"x":4.45,"y":4.33},{"p":6,"v":2,"x":3.73,"y":3.43},{"p":6,"v":2,"x":4.03,"y":4.15},{"p":6,"v":2,"x":3.46,"y":3.73},{"p":6,"v":2,"x":4.24,"y":4.03},{"p":6,"v":2,"x":4.48,"y":3.61},{"p":6,"v":2,"x":3.79,"y":4.60},
{"p":6,"v":3,"x":4.09,"y":3.85},{"p":6,"v":3,"x":3.64,"y":4.12},{"p":6,"v":3,"x":4.24,"y":4.33},{"p":6,"v":3,"x":3.88,"y":3.61},{"p":6,"v":3,"x":4.45,"y":4.06},{"p":6,"v":3,"x":3.73,"y":3.82},{"p":6,"v":3,"x":4.03,"y":4.27},{"p":6,"v":3,"x":3.52,"y":3.94},{"p":6,"v":3,"x":4.18,"y":3.70},{"p":6,"v":3,"x":3.97,"y":4.09},{"p":6,"v":3,"x":4.30,"y":3.91},{"p":6,"v":3,"x":3.79,"y":4.42},
{"p":6,"v":1,"x":-0.15,"y":-0.09},{"p":6,"v":1,"x":0.12,"y":0.36},{"p":6,"v":1,"x":0.33,"y":-0.24},{"p":6,"v":1,"x":-0.39,"y":0.12},{"p":6,"v":1,"x":0.06,"y":-0.45},{"p":6,"v":1,"x":-0.18,"y":0.27},{"p":6,"v":1,"x":0.27,"y":-0.03},{"p":6,"v":1,"x":-0.06,"y":0.48},{"p":6,"v":1,"x":-0.30,"y":-0.18},{"p":6,"v":1,"x":0.06,"y":0.06},{"p":6,"v":1,"x":-0.09,"y":-0.30},{"p":6,"v":1,"x":0.42,"y":0.21},
{"p":6,"v":2,"x":-0.30,"y":0.18},{"p":6,"v":2,"x":0.06,"y":-0.06},{"p":6,"v":2,"x":-0.09,"y":0.30},{"p":6,"v":2,"x":0.42,"y":-0.21},{"p":6,"v":2,"x":0.15,"y":0.12},{"p":6,"v":2,"x":-0.45,"y":-0.33},{"p":6,"v":2,"x":0.27,"y":0.57},{"p":6,"v":2,"x":-0.03,"y":-0.15},{"p":6,"v":2,"x":0.54,"y":0.27},{"p":6,"v":2,"x":-0.24,"y":-0.03},{"p":6,"v":2,"x":-0.48,"y":0.39},{"p":6,"v":2,"x":0.21,"y":-0.60},
{"p":6,"v":3,"x":-0.09,"y":0.15},{"p":6,"v":3,"x":0.36,"y":-0.12},{"p":6,"v":3,"x":-0.24,"y":-0.33},{"p":6,"v":3,"x":0.12,"y":0.39},{"p":6,"v":3,"x":-0.45,"y":-0.06},{"p":6,"v":3,"x":0.27,"y":0.18},{"p":6,"v":3,"x":-0.03,"y":-0.27},{"p":6,"v":3,"x":0.48,"y":0.06},{"p":6,"v":3,"x":-0.18,"y":0.30},{"p":6,"v":3,"x":0.03,"y":-0.09},{"p":6,"v":3,"x":-0.30,"y":0.09},{"p":6,"v":3,"x":0.21,"y":-0.42},
{"p":6,"v":1,"x":4.15,"y":-0.09},{"p":6,"v":1,"x":3.88,"y":0.36},{"p":6,"v":1,"x":3.67,"y":-0.24},{"p":6,"v":1,"x":4.39,"y":0.12},{"p":6,"v":1,"x":3.94,"y":-0.45},{"p":6,"v":1,"x":4.18,"y":0.27},{"p":6,"v":1,"x":3.73,"y":-0.03},{"p":6,"v":1,"x":4.06,"y":0.48},{"p":6,"v":1,"x":4.30,"y":-0.18},{"p":6,"v":1,"x":3.94,"y":0.06},{"p":6,"v":1,"x":4.09,"y":-0.30},{"p":6,"v":1,"x":3.58,"y":0.21},
{"p":6,"v":2,"x":4.30,"y":0.18},{"p":6,"v":2,"x":3.94,"y":-0.06},{"p":6,"v":2,"x":4.09,"y":0.30},{"p":6,"v":2,"x":3.58,"y":-0.21},{"p":6,"v":2,"x":3.85,"y":0.12},{"p":6,"v":2,"x":4.45,"y":-0.33},{"p":6,"v":2,"x":3.73,"y":0.57},{"p":6,"v":2,"x":4.03,"y":-0.15},{"p":6,"v":2,"x":3.46,"y":0.27},{"p":6,"v":2,"x":4.24,"y":-0.03},{"p":6,"v":2,"x":4.48,"y":0.39},{"p":6,"v":2,"x":3.79,"y":-0.60},
{"p":6,"v":3,"x":4.09,"y":0.15},{"p":6,"v":3,"x":3.64,"y":-0.12},{"p":6,"v":3,"x":4.24,"y":-0.33},{"p":6,"v":3,"x":3.88,"y":0.39},{"p":6,"v":3,"x":4.45,"y":-0.06},{"p":6,"v":3,"x":3.73,"y":0.18},{"p":6,"v":3,"x":4.03,"y":-0.27},{"p":6,"v":3,"x":3.52,"y":0.06},{"p":6,"v":3,"x":4.18,"y":0.30},{"p":6,"v":3,"x":3.97,"y":-0.09},{"p":6,"v":3,"x":4.30,"y":0.09},{"p":6,"v":3,"x":3.79,"y":-0.42}
]
},
"vconcat": [
 {"spacing": 2, "hconcat": [
  {"spacing": 13, "hconcat": [
   {"width": 209, "height": 192, "title": "Original (Not Rotated)", "data": {"name": "pts"}, "transform": [{"filter": "datum.p == 1"}],
    "mark": {"type": "circle", "size": 8, "opacity": 1},
    "encoding": {
     "x": {"field": "x", "type": "quantitative", "scale": {"domain": [-0.845, 4.98], "nice": false, "zero": false}, "axis": {"title": "Feature 1", "values": [0,1,2,3,4], "labels": false, "grid": true}},
     "y": {"field": "y", "type": "quantitative", "scale": {"domain": [-0.757, 4.77], "nice": false, "zero": false}, "axis": {"title": "Feature 2", "values": [0,1,2,3,4], "labels": false, "grid": true}},
     "color": {"field": "v", "type": "nominal", "scale": {"domain": [1,2,3], "range": ["#1f77b4","#8c564b","#17becf"]}, "legend": null}}},
   {"width": 10, "height": 192, "title": " ", "data": {"name": "bars"}, "transform": [{"filter": "datum.p == 1"}], "view": {"stroke": "#888", "strokeWidth": 0.6},
    "mark": {"type": "rect"},
    "encoding": {
     "y": {"field": "lab", "type": "nominal", "sort": {"field": "v", "op": "max", "order": "descending"}, "scale": {"paddingInner": 0, "paddingOuter": 0}, "axis": {"orient": "right", "title": null, "ticks": false, "grid": false, "labelPadding": 3, "minExtent": 46, "labelFontStyle": "italic"}},
     "color": {"field": "v", "type": "nominal", "scale": {"domain": [1,2,3], "range": ["#1f77b4","#8c564b","#17becf"]}, "legend": null}}}
  ]},
  {"spacing": 13, "hconcat": [
   {"width": 209, "height": 192, "title": "Input (Rotated)", "data": {"name": "pts"}, "transform": [{"filter": "datum.p == 2"}],
    "mark": {"type": "circle", "size": 8, "opacity": 1},
    "encoding": {
     "x": {"field": "x", "type": "quantitative", "scale": {"domain": [-0.57, 6.49], "nice": false, "zero": false}, "axis": {"title": "Feature 1", "values": [0,1,2,3,4,5,6], "labels": false, "grid": true}},
     "y": {"field": "y", "type": "quantitative", "scale": {"domain": [-0.62, 6.58], "nice": false, "zero": false}, "axis": {"title": "Feature 2", "values": [0,1,2,3,4,5,6], "labels": false, "grid": true}},
     "color": {"field": "v", "type": "nominal", "scale": {"domain": [1,2,3], "range": ["#1f77b4","#8c564b","#17becf"]}, "legend": null}}},
   {"width": 10, "height": 192, "title": " ", "data": {"name": "bars"}, "transform": [{"filter": "datum.p == 2"}], "view": {"stroke": "#888", "strokeWidth": 0.6},
    "mark": {"type": "rect"},
    "encoding": {
     "y": {"field": "lab", "type": "nominal", "sort": {"field": "v", "op": "max", "order": "descending"}, "scale": {"paddingInner": 0, "paddingOuter": 0}, "axis": {"orient": "right", "title": null, "ticks": false, "grid": false, "labelPadding": 7, "minExtent": 46, "labelFontStyle": "italic"}},
     "color": {"field": "v", "type": "nominal", "scale": {"domain": [1,2,3], "range": ["#1f77b4","#8c564b","#17becf"]}, "legend": null}}}
  ]},
  {"spacing": 13, "hconcat": [
   {"width": 209, "height": 192, "title": "MAXVAR-GCCA", "data": {"name": "pts"}, "transform": [{"filter": "datum.p == 3"}],
    "mark": {"type": "circle", "size": 8, "opacity": 1},
    "encoding": {
     "x": {"field": "x", "type": "quantitative", "scale": {"domain": [-0.79, 4.82], "nice": false, "zero": false}, "axis": {"title": "Feature 1", "values": [0,1,2,3,4], "labels": false, "grid": true}},
     "y": {"field": "y", "type": "quantitative", "scale": {"domain": [-0.32, 6.41], "nice": false, "zero": false}, "axis": {"title": "Feature 2", "values": [0,1,2,3,4,5,6], "labels": false, "grid": true}},
     "color": {"field": "v", "type": "nominal", "scale": {"domain": [1,2,3], "range": ["#1f77b4","#8c564b","#17becf"]}, "legend": null}}},
   {"width": 10, "height": 192, "title": " ", "data": {"name": "bars"}, "transform": [{"filter": "datum.p == 3"}], "view": {"stroke": "#888", "strokeWidth": 0.6},
    "mark": {"type": "rect"},
    "encoding": {
     "y": {"field": "lab", "type": "nominal", "sort": {"field": "v", "op": "max", "order": "descending"}, "scale": {"paddingInner": 0, "paddingOuter": 0}, "axis": {"orient": "right", "title": null, "ticks": false, "grid": false, "labelPadding": 4}},
     "color": {"field": "v", "type": "nominal", "scale": {"domain": [1,2,3], "range": ["#1f77b4","#8c564b","#17becf"]}, "legend": null}}}
  ]}
 ]},
 {"spacing": 2, "hconcat": [
  {"spacing": 13, "hconcat": [
   {"width": 209, "height": 192, "title": "SUMCOR-GCCA", "data": {"name": "pts"}, "transform": [{"filter": "datum.p == 4"}],
    "mark": {"type": "circle", "size": 8, "opacity": 1},
    "encoding": {
     "x": {"field": "x", "type": "quantitative", "scale": {"domain": [-0.46, 6.51], "nice": false, "zero": false}, "axis": {"title": "Feature 1", "values": [0,1,2,3,4,5,6], "labels": false, "grid": true}},
     "y": {"field": "y", "type": "quantitative", "scale": {"domain": [-0.28, 8.21], "nice": false, "zero": false}, "axis": {"title": "Feature 2", "values": [0,1,2,3,4,5,6,7,8], "labels": false, "grid": true}},
     "color": {"field": "v", "type": "nominal", "scale": {"domain": [1,2,3], "range": ["#1f77b4","#8c564b","#17becf"]}, "legend": null}}},
   {"width": 10, "height": 192, "title": " ", "data": {"name": "bars"}, "transform": [{"filter": "datum.p == 4"}], "view": {"stroke": "#888", "strokeWidth": 0.6},
    "mark": {"type": "rect"},
    "encoding": {
     "y": {"field": "lab", "type": "nominal", "sort": {"field": "v", "op": "max", "order": "descending"}, "scale": {"paddingInner": 0, "paddingOuter": 0}, "axis": {"orient": "right", "title": null, "ticks": false, "grid": false, "labelPadding": 6, "minExtent": 46}},
     "color": {"field": "v", "type": "nominal", "scale": {"domain": [1,2,3], "range": ["#1f77b4","#8c564b","#17becf"]}, "legend": null}}}
  ]},
  {"spacing": 13, "hconcat": [
   {"width": 209, "height": 192, "title": "TCCA", "data": {"name": "pts"}, "transform": [{"filter": "datum.p == 5"}],
    "mark": {"type": "circle", "size": 8, "opacity": 1},
    "encoding": {
     "x": {"field": "x", "type": "quantitative", "scale": {"domain": [-0.44, 6.66], "nice": false, "zero": false}, "axis": {"title": "Feature 1", "values": [0,1,2,3,4,5,6], "labels": false, "grid": true}},
     "y": {"field": "y", "type": "quantitative", "scale": {"domain": [-0.47, 6.43], "nice": false, "zero": false}, "axis": {"title": "Feature 2", "values": [0,1,2,3,4,5,6], "labels": false, "grid": true}},
     "color": {"field": "v", "type": "nominal", "scale": {"domain": [1,2,3], "range": ["#1f77b4","#8c564b","#17becf"]}, "legend": null}}},
   {"width": 10, "height": 192, "title": " ", "data": {"name": "bars"}, "transform": [{"filter": "datum.p == 5"}], "view": {"stroke": "#888", "strokeWidth": 0.6},
    "mark": {"type": "rect"},
    "encoding": {
     "y": {"field": "lab", "type": "nominal", "sort": {"field": "v", "op": "max", "order": "descending"}, "scale": {"paddingInner": 0, "paddingOuter": 0}, "axis": {"orient": "right", "title": null, "ticks": false, "grid": false, "labelPadding": 4, "minExtent": 46}},
     "color": {"field": "v", "type": "nominal", "scale": {"domain": [1,2,3], "range": ["#1f77b4","#8c564b","#17becf"]}, "legend": null}}}
  ]},
  {"spacing": 13, "hconcat": [
   {"width": 209, "height": 192, "title": "OSHO-CCA", "data": {"name": "pts"}, "transform": [{"filter": "datum.p == 6"}],
    "mark": {"type": "circle", "size": 8, "opacity": 1},
    "encoding": {
     "x": {"field": "x", "type": "quantitative", "scale": {"domain": [-0.93, 4.83], "nice": false, "zero": false}, "axis": {"title": "Feature 1", "values": [0,1,2,3,4], "labels": false, "grid": true}},
     "y": {"field": "y", "type": "quantitative", "scale": {"domain": [-0.78, 4.82], "nice": false, "zero": false}, "axis": {"title": "Feature 2", "values": [0,1,2,3,4], "labels": false, "grid": true}},
     "color": {"field": "v", "type": "nominal", "scale": {"domain": [1,2,3], "range": ["#1f77b4","#8c564b","#17becf"]}, "legend": null}}},
   {"width": 10, "height": 192, "title": " ", "data": {"name": "bars"}, "transform": [{"filter": "datum.p == 6"}], "view": {"stroke": "#888", "strokeWidth": 0.6},
    "mark": {"type": "rect"},
    "encoding": {
     "y": {"field": "lab", "type": "nominal", "sort": {"field": "v", "op": "max", "order": "descending"}, "scale": {"paddingInner": 0, "paddingOuter": 0}, "axis": {"orient": "right", "title": null, "ticks": false, "grid": false, "labelPadding": 4}},
     "color": {"field": "v", "type": "nominal", "scale": {"domain": [1,2,3], "range": ["#1f77b4","#8c564b","#17becf"]}, "legend": null}}}
  ]}
 ]}
],
"spacing": 40
}
